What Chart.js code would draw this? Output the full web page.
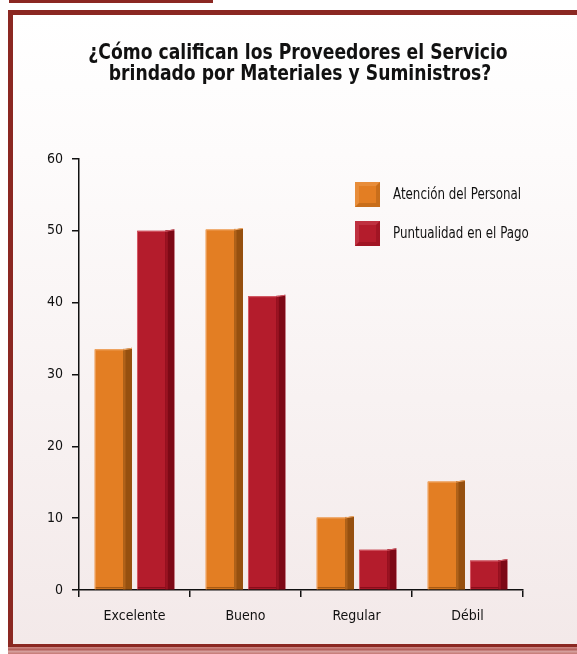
<!DOCTYPE html>
<html>
<head>
<meta charset="utf-8">
<script src="https://cdn.jsdelivr.net/npm/chart.js@4/dist/chart.umd.min.js"></script>
<style>
  html, body { margin: 0; padding: 0; background: #fff; }
  #wrap { position: relative; width: 577px; height: 654px; overflow: hidden; }
  #tab { position: absolute; left: 9px; top: 0; width: 204px; height: 3px; background: #8b2822; }
  #frame {
    position: absolute; left: 8px; top: 10px; width: 569px; height: 634px;
    box-sizing: border-box; border-top: 5px solid #8b2822; border-left: 5px solid #8b2822;
    background: linear-gradient(#ffffff 0%, #fdfbfb 22%, #f3e9e9 100%);
  }
  #bottom {
    position: absolute; left: 8px; top: 644px; width: 569px; height: 10px;
    background: linear-gradient(#8b2822 0, #8b2822 25%, #c9817d 35%, #b5625e 55%, #d59f9c 75%, #c47874 100%);
  }
  #c { position: absolute; left: 0; top: 0; }
</style>
</head>
<body>
<div id="wrap">
  <div id="tab"></div>
  <div id="frame"></div>
  <div id="bottom"></div>
  <canvas id="c" width="577" height="654"></canvas>
</div>
<script>
var categories = ['Excelente', 'Bueno', 'Regular', 'Débil'];
var atencion = [33.5, 50.2, 10.1, 15.1];
var puntualidad = [50, 40.9, 5.6, 4.1];
var seriesNames = ['Atención del Personal', 'Puntualidad en el Pago'];
var yMax = 60;
var yStep = 10;
var titleLines = ['¿Cómo califican los Proveedores el Servicio', 'brindado por Materiales y Suministros?'];

var frontColors = ['#e37e23', '#b41c2c'];
var sideColors = ['#96500f', '#7d0916'];
var midColors = ['#b0621a', '#9a1322'];
var lightColors = ['#f0a866', '#d45a66'];

var FONT = '"DejaVu Sans Condensed", "Liberation Sans", sans-serif';

// condensed look: draw text squeezed horizontally
function narrowText(ctx, text, x, y, sx, align) {
  ctx.save();
  ctx.translate(x, y);
  ctx.scale(sx, 1);
  ctx.textAlign = align;
  ctx.fillText(text, 0, 0);
  ctx.restore();
}

var titleBlock = {
  id: 'titleBlock',
  afterDraw: function(chart) {
    var ctx = chart.ctx;
    ctx.save();
    ctx.fillStyle = '#111';
    ctx.font = 'bold 21px ' + FONT;
    ctx.textBaseline = 'alphabetic';
    narrowText(ctx, titleLines[0], 298, 59, 0.91, 'center');
    narrowText(ctx, titleLines[1], 300, 79.5, 0.91, 'center');
    ctx.restore();
  }
};

// draws the side face and bevel on every bar
var bars3d = {
  id: 'bars3d',
  afterDatasetsDraw: function(chart) {
    var ctx = chart.ctx;
    chart.data.datasets.forEach(function(ds, i) {
      var meta = chart.getDatasetMeta(i);
      meta.data.forEach(function(bar) {
        var p = bar.getProps(['x', 'y', 'base', 'width'], true);
        var left = p.x - p.width / 2, right = p.x + p.width / 2;
        var fx = left + p.width * 0.76;
        var top = p.y, base = p.base;
        ctx.save();
        ctx.fillStyle = sideColors[i];
        ctx.beginPath();
        ctx.moveTo(fx, top);
        ctx.lineTo(right, top - 1.5);
        ctx.lineTo(right, base);
        ctx.lineTo(fx, base);
        ctx.closePath();
        ctx.fill();
        ctx.fillStyle = midColors[i];
        ctx.fillRect(fx, top - 0.5, 2.5, base - top + 0.5);
        ctx.strokeStyle = lightColors[i];
        ctx.lineWidth = 1;
        ctx.beginPath();
        ctx.moveTo(left + 0.5, base);
        ctx.lineTo(left + 0.5, top + 0.5);
        ctx.lineTo(fx, top + 0.5);
        ctx.lineTo(right, top - 1);
        ctx.stroke();
        ctx.strokeStyle = sideColors[i];
        ctx.beginPath();
        ctx.moveTo(left + 1, base - 1.5);
        ctx.lineTo(fx, base - 1.5);
        ctx.stroke();
        ctx.restore();
      });
    });
  }
};

// legend with bevelled squares inside the plot
var boxLegend = {
  id: 'boxLegend',
  afterDraw: function(chart) {
    var ctx = chart.ctx;
    chart.data.datasets.forEach(function(ds, i) {
      var sx = 355, sy = 182 + i * 39, s = 25, b = 4;
      ctx.save();
      ctx.fillStyle = frontColors[i];
      ctx.fillRect(sx, sy, s, s);
      ctx.globalAlpha = 0.35;
      ctx.fillStyle = lightColors[i];
      ctx.beginPath();
      ctx.moveTo(sx, sy); ctx.lineTo(sx + s, sy); ctx.lineTo(sx + s - b, sy + b);
      ctx.lineTo(sx + b, sy + b); ctx.lineTo(sx + b, sy + s - b); ctx.lineTo(sx, sy + s);
      ctx.closePath(); ctx.fill();
      ctx.fillStyle = sideColors[i];
      ctx.beginPath();
      ctx.moveTo(sx + s, sy); ctx.lineTo(sx + s, sy + s); ctx.lineTo(sx, sy + s);
      ctx.lineTo(sx + b, sy + s - b); ctx.lineTo(sx + s - b, sy + s - b); ctx.lineTo(sx + s - b, sy + b);
      ctx.closePath(); ctx.fill();
      ctx.globalAlpha = 1;
      ctx.fillStyle = '#111';
      ctx.font = '15px ' + FONT;
      ctx.textBaseline = 'middle';
      narrowText(ctx, ds.label, 393, sy + s / 2 + 1, 0.88, 'left');
      ctx.restore();
    });
  }
};

new Chart(document.getElementById('c'), {
  type: 'bar',
  data: {
    labels: categories,
    datasets: [
      { label: seriesNames[0], data: atencion, backgroundColor: frontColors[0] },
      { label: seriesNames[1], data: puntualidad, backgroundColor: frontColors[1] }
    ]
  },
  options: {
    responsive: false,
    animation: false,
    layout: { padding: { left: 0, right: 54, top: 159, bottom: 0 } },
    datasets: { bar: { categoryPercentage: 0.762, barPercentage: 0.882 } },
    plugins: {
      legend: { display: false },
      tooltip: { enabled: false },
      title: { display: false }
    },
    scales: {
      x: {
        offset: true,
        grid: { display: true, drawOnChartArea: false, offset: true, tickLength: 7, color: '#111', lineWidth: 1.5 },
        border: { display: true, color: '#111', width: 1.5 },
        ticks: { color: '#111', font: { family: FONT, size: 14 }, padding: 11 },
        afterFit: function(s) { s.height = 64; }
      },
      y: {
        min: 0, max: yMax,
        grid: { display: true, drawOnChartArea: false, tickLength: 7, color: '#111', lineWidth: 1.5 },
        border: { display: true, color: '#111', width: 1.5 },
        ticks: { stepSize: yStep, color: '#111', font: { family: FONT, size: 14 }, padding: 9 },
        afterFit: function(s) { s.width = 79; }
      }
    }
  },
  plugins: [bars3d, boxLegend, titleBlock]
});
</script>
</body>
</html>
